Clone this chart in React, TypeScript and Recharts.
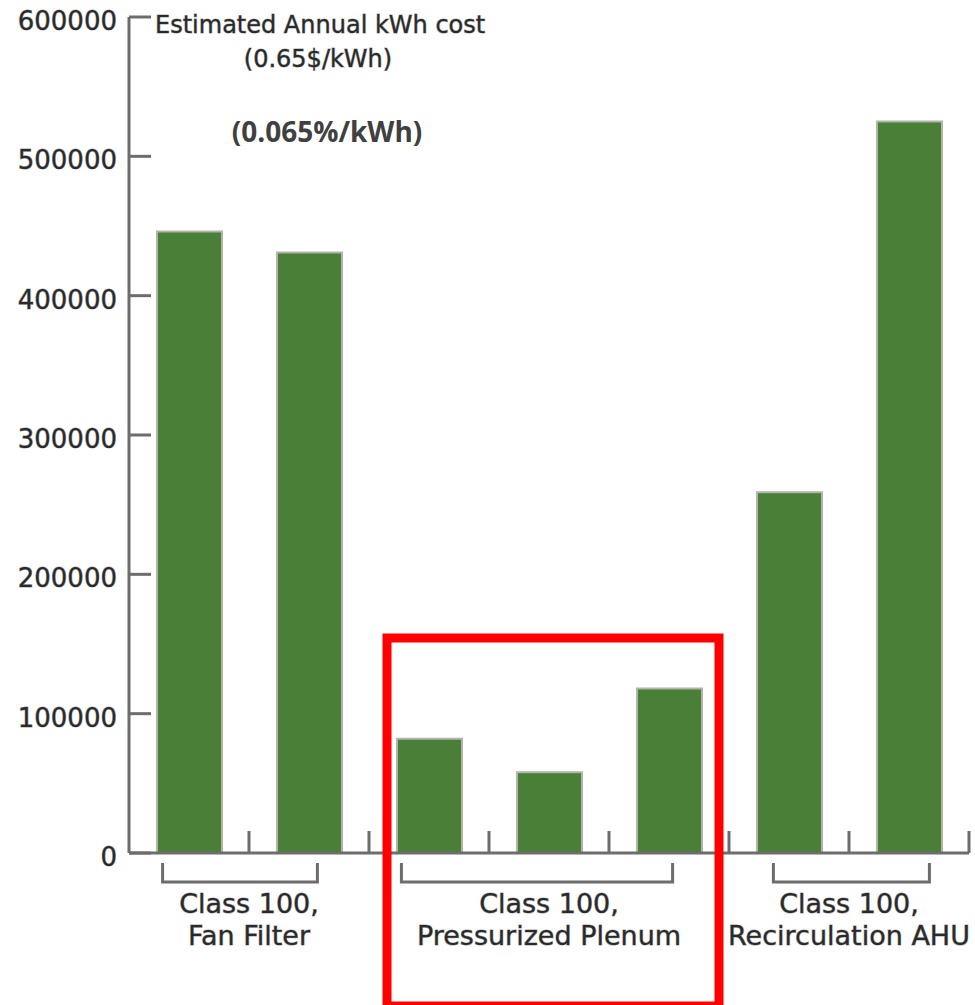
import { BarChart, Bar, XAxis, YAxis } from "recharts";

// Annual energy cost per air-handling configuration, in $.
const systems = ["ff-a", "ff-b", "pp-a", "pp-b", "pp-c", "ahu-a", "ahu-b"];
const annualCost = [446000, 431000, 82000, 58000, 118000, 259000, 525000];

// Systems are grouped under bracketed captions along the x axis.
const groupSizes = [2, 3, 2];
const groupLines = [
  ["Class 100,", "Fan Filter"],
  ["Class 100,", "Pressurized Plenum"],
  ["Class 100,", "Recirculation AHU"],
];

const yTicks = [0, 100000, 200000, 300000, 400000, 500000, 600000];

const titleLines = ["Estimated Annual kWh cost", "(0.65$/kWh)"];
const rateNote = "(0.065%/kWh)";

const data = systems.map((id, i) => ({ id, cost: annualCost[i] }));

// layout
const W = 975;
const H = 1005;
const Y_AXIS_W = 129;
const MARGIN = { top: 17, right: 6, bottom: 0, left: 0 };
const X_AXIS_H = 152;
const BAND = (W - MARGIN.right - Y_AXIS_W) / systems.length;
const Y_TICK_GAP = 12;

// bracket ends, as fractions of a band, relative to the first / last bar centre
const bracketPad = [
  [-0.22, 0.07],
  [-0.23, 0.03],
  [-0.13, 0.17],
];

const GREEN = "#4a7f38";
const AXIS = "#6d6d6d";
const FONT = "'DejaVu Sans', sans-serif";
const textStyle = {
  fontFamily: FONT,
  fill: "#2a2a2a",
  stroke: "#a8a8a8",
  strokeWidth: 1,
  paintOrder: "stroke" as const,
};

const groupStarts = groupSizes.map((_, g) =>
  groupSizes.slice(0, g).reduce((a, b) => a + b, 0)
);

const YTick = ({ x, y, payload }: any) => {
  const axisX = x + Y_TICK_GAP;
  return (
    <g>
      <line x1={axisX} x2={axisX + 22} y1={y} y2={y} stroke={AXIS} strokeWidth={3} />
      <text x={x} y={y + 13} textAnchor="end" fontSize={26} style={textStyle}>
        {payload.value}
      </text>
    </g>
  );
};

const XTick = ({ x, y, index }: any) => {
  const g = groupStarts.indexOf(index);
  let group = null;
  if (g >= 0) {
    const lastX = x + (groupSizes[g] - 1) * BAND;
    const x1 = x + bracketPad[g][0] * BAND;
    const x2 = lastX + bracketPad[g][1] * BAND;
    const cx = (x + lastX) / 2;
    group = (
      <g>
        <polyline
          points={`${x1},${y + 10} ${x1},${y + 29} ${x2},${y + 29} ${x2},${y + 10}`}
          fill="none"
          stroke={AXIS}
          strokeWidth={3}
        />
        {groupLines[g].map((line, k) => (
          <text
            key={k}
            x={cx}
            y={y + 60 + k * 32}
            textAnchor="middle"
            fontSize={27}
            style={textStyle}
          >
            {line}
          </text>
        ))}
      </g>
    );
  }
  return (
    <g>
      <line
        x1={x + BAND / 2}
        x2={x + BAND / 2}
        y1={y}
        y2={y - 22}
        stroke={AXIS}
        strokeWidth={3}
      />
      {group}
    </g>
  );
};

export default function App() {
  const plotBottom = H - X_AXIS_H - MARGIN.bottom;
  const groupLeft = Y_AXIS_W + groupStarts[1] * BAND;
  return (
    <div style={{ position: "absolute", left: 0, top: 0, width: W, height: H, background: "#fff" }}>
      <BarChart width={W} height={H} data={data} margin={MARGIN}>
        <XAxis
          dataKey="id"
          height={X_AXIS_H}
          interval={0}
          tickLine={false}
          tickSize={0}
          tickMargin={0}
          axisLine={{ stroke: AXIS, strokeWidth: 3 }}
          tick={<XTick />}
        />
        <YAxis
          width={Y_AXIS_W}
          domain={[0, 600000]}
          ticks={yTicks}
          interval={0}
          tickLine={false}
          tickSize={0}
          tickMargin={Y_TICK_GAP}
          axisLine={{ stroke: AXIS, strokeWidth: 3 }}
          tick={<YTick />}
        />
        <Bar
          dataKey="cost"
          fill={GREEN}
          stroke="#b1b4ab"
          strokeWidth={2}
          barSize={65}
          isAnimationActive={false}
        />
      </BarChart>
      <svg
        width={W}
        height={H}
        style={{ position: "absolute", left: 0, top: 0, pointerEvents: "none" }}
      >
        <text x={155} y={33} fontSize={24} style={textStyle}>
          {titleLines[0]}
        </text>
        <text x={318} y={67} fontSize={24} textAnchor="middle" style={textStyle}>
          {titleLines[1]}
        </text>
        <text
          x={327}
          y={142}
          fontSize={28}
          fontWeight={700}
          textAnchor="middle"
          fontFamily="'Open Sans', sans-serif"
          fill="#404040"
        >
          {rateNote}
        </text>
        {/* highlight frame around the pressurized plenum group */}
        <rect
          x={groupLeft + 18}
          y={plotBottom - 215}
          width={332}
          height={368}
          fill="none"
          stroke="#ff0000"
          strokeWidth={9}
        />
      </svg>
    </div>
  );
}
